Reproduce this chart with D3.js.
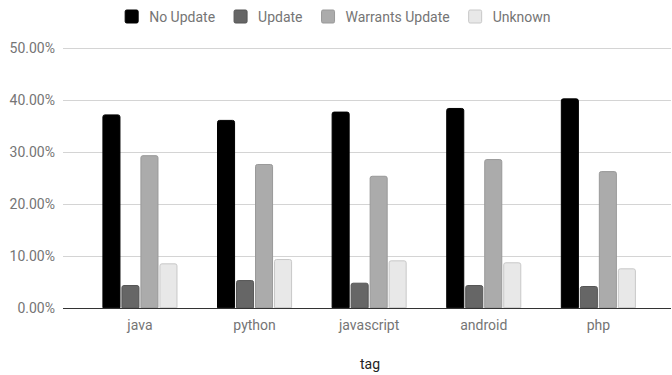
<!DOCTYPE html>
<html>
<head>
<meta charset="utf-8">
<script src="https://cdn.jsdelivr.net/npm/d3@7"></script>
<style>
  html, body { margin: 0; padding: 0; background: #fff; }
  svg { display: block; font-family: Roboto, "Noto Sans", sans-serif; }
</style>
</head>
<body>
<svg id="chart" width="672" height="375"></svg>
<script>
const categories = ["java", "python", "javascript", "android", "php"];
const seriesNames = ["No Update", "Update", "Warrants Update", "Unknown"];
const noUpdate = [0.3726, 0.3620, 0.3780, 0.3850, 0.4035];
const update = [0.0437, 0.0533, 0.0482, 0.0437, 0.0418];
const warrantsUpdate = [0.2940, 0.2770, 0.2543, 0.2865, 0.2633];
const unknown = [0.0855, 0.0938, 0.0913, 0.0875, 0.0759];
const yTicks = [0, 0.1, 0.2, 0.3, 0.4, 0.5];
const xTitle = "tag";

const seriesValues = [noUpdate, update, warrantsUpdate, unknown];
const fills = ["#000000", "#666666", "#ababab", "#e8e8e8"];
const strokes = ["#000000", "#555555", "#999999", "#c8c8c8"];

const svg = d3.select("#chart");
const plot = { left: 63, right: 671, top: 48.3, bottom: 307.7 };

const y = d3.scaleLinear().domain([0, 0.5]).range([plot.bottom, plot.top]);
const x = d3.scaleBand().domain(categories).range([82.7, 655.6]).paddingInner(0.345).paddingOuter(0.172);
const xs = d3.scaleBand().domain(seriesNames).range([0, x.bandwidth()]).paddingInner(0.05);

// gridlines
svg.append("g").selectAll("line").data(yTicks.filter(d => d > 0)).join("line")
  .attr("x1", plot.left).attr("x2", plot.right)
  .attr("y1", d => Math.round(y(d)) + 0.5).attr("y2", d => Math.round(y(d)) + 0.5)
  .attr("stroke", "#d4d4d4").attr("stroke-width", 1);

// y axis labels
const yAxis = d3.axisLeft(y).tickValues(yTicks).tickFormat(d3.format(".2%")).tickSize(0).tickPadding(8);
const yg = svg.append("g").attr("transform", `translate(${plot.left},0)`).call(yAxis);
yg.select(".domain").remove();
yg.selectAll("text").attr("fill", "#757575").attr("font-size", 14)
  .attr("font-family", "Roboto, sans-serif");

// bars
const groups = svg.append("g").selectAll("g").data(categories).join("g")
  .attr("transform", d => `translate(${x(d)},0)`);
groups.selectAll("path").data((c, i) => seriesNames.map((s, j) => ({ s, j, v: seriesValues[j][i] })))
  .join("path")
  .attr("d", d => {
    const x0 = xs(d.s) + 0.5, w = xs.bandwidth() - 1, yt = y(d.v) + 0.5, yb = y(0), r = 2;
    return `M${x0},${yb}V${yt + r}Q${x0},${yt} ${x0 + r},${yt}H${x0 + w - r}Q${x0 + w},${yt} ${x0 + w},${yt + r}V${yb}Z`;
  })
  .attr("fill", d => fills[d.j])
  .attr("stroke", d => strokes[d.j]).attr("stroke-width", 1);

// x axis baseline
svg.append("line").attr("x1", plot.left).attr("x2", plot.right)
  .attr("y1", Math.round(y(0)) + 0.5).attr("y2", Math.round(y(0)) + 0.5)
  .attr("stroke", "#333").attr("stroke-width", 1);

// x axis labels
const xAxis = d3.axisBottom(x).tickSize(0).tickPadding(12);
const xg = svg.append("g").attr("transform", `translate(0,${plot.bottom})`).call(xAxis);
xg.select(".domain").remove();
xg.selectAll("text").attr("fill", "#757575").attr("font-size", 14)
  .attr("font-family", "Roboto, sans-serif");

// x title
svg.append("text").attr("x", (plot.left + plot.right) / 2 + 3).attr("y", 369)
  .attr("text-anchor", "middle").attr("fill", "#222").attr("font-size", 14)
  .text(xTitle);

// legend
const legend = svg.append("g");
let cx = 0;
const items = [];
seriesNames.forEach((name, j) => {
  const g = legend.append("g");
  g.append("rect").attr("x", 0).attr("y", 10).attr("width", 13).attr("height", 13)
    .attr("rx", 1.5).attr("fill", fills[j]).attr("stroke", strokes[j]);
  const t = g.append("text").attr("x", 24).attr("y", 21.5).attr("fill", "#757575")
    .attr("font-size", 14).text(name);
  const w = 24 + t.node().getComputedTextLength();
  g.attr("transform", `translate(${cx},0)`);
  cx += w + 19;
});
const totalW = cx - 19;
legend.attr("transform", `translate(${(124 + 551.7) / 2 - totalW / 2},0)`);
</script>
</body>
</html>
